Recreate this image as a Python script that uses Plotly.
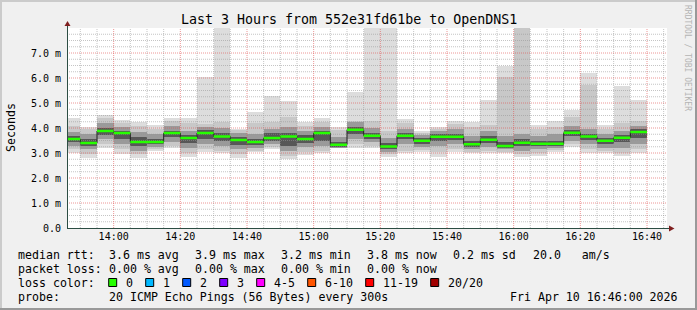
import plotly.graph_objects as go
import pandas as pd

# ---------------- data ----------------
day = "2026-04-10 "
times = ["13:50", "13:55", "14:00", "14:05", "14:10", "14:15", "14:20", "14:25",
         "14:30", "14:35", "14:40", "14:45", "14:50", "14:55", "15:00", "15:05",
         "15:10", "15:15", "15:20", "15:25", "15:30", "15:35", "15:40", "15:45",
         "15:50", "15:55", "16:00", "16:05", "16:10", "16:15", "16:20", "16:25",
         "16:30", "16:35", "16:40"]

rtt_min = [3.02, 2.80, 3.20, 2.98, 2.80, 3.08, 3.20, 2.85, 3.05, 2.99, 2.80, 3.05,
           3.15, 2.78, 2.92, 2.99, 3.19, 3.21, 3.21, 2.85, 2.99, 3.05, 2.85, 3.05,
           2.99, 2.99, 2.99, 2.85, 2.88, 3.05, 3.25, 2.99, 2.99, 2.88, 3.01]
rtt_p2 = [3.15, 2.95, 3.35, 3.15, 2.95, 3.15, 3.30, 3.00, 3.15, 3.10, 2.95, 3.10,
          3.25, 2.90, 3.05, 3.10, 3.20, 3.35, 3.30, 2.95, 3.10, 3.12, 3.05, 3.15,
          3.05, 3.10, 3.05, 2.95, 3.00, 3.12, 3.35, 3.15, 3.08, 3.00, 3.15]
rtt_q1 = [3.30, 3.15, 3.55, 3.35, 3.10, 3.25, 3.45, 3.20, 3.35, 3.30, 3.15, 3.20,
          3.35, 3.10, 3.25, 3.30, 3.22, 3.55, 3.45, 3.05, 3.35, 3.25, 3.30, 3.35,
          3.15, 3.25, 3.15, 3.10, 3.15, 3.22, 3.50, 3.35, 3.20, 3.20, 3.35]
rtt_c1 = [3.45, 3.28, 3.72, 3.58, 3.28, 3.35, 3.65, 3.40, 3.55, 3.50, 3.32, 3.32,
          3.50, 3.30, 3.40, 3.50, 3.25, 3.78, 3.58, 3.15, 3.55, 3.38, 3.50, 3.52,
          3.25, 3.40, 3.22, 3.28, 3.27, 3.30, 3.68, 3.52, 3.37, 3.45, 3.60]
rtt_median = [3.56, 3.40, 3.88, 3.80, 3.44, 3.44, 3.80, 3.60, 3.80, 3.66, 3.52, 3.44,
              3.60, 3.66, 3.56, 3.80, 3.33, 3.93, 3.69, 3.26, 3.69, 3.49, 3.65, 3.65,
              3.35, 3.53, 3.28, 3.41, 3.37, 3.37, 3.81, 3.66, 3.49, 3.61, 3.84]
rtt_c2 = [3.68, 3.55, 4.02, 3.88, 3.65, 3.58, 3.90, 3.72, 3.92, 3.80, 3.65, 3.55,
          3.80, 3.80, 3.72, 3.88, 3.45, 4.05, 3.80, 3.40, 3.82, 3.60, 3.75, 3.78,
          3.50, 3.68, 3.45, 3.55, 3.50, 3.50, 3.92, 3.78, 3.60, 3.72, 3.95]
rtt_q3 = [3.85, 3.75, 4.20, 4.05, 3.85, 3.75, 4.10, 3.90, 4.05, 4.00, 3.80, 3.75,
          3.95, 4.05, 3.90, 4.05, 3.65, 4.25, 4.00, 3.60, 3.98, 3.72, 3.88, 3.98,
          3.70, 3.90, 3.70, 3.75, 3.70, 3.75, 4.10, 3.95, 3.78, 3.90, 4.10]
rtt_p19 = [4.10, 3.95, 4.40, 4.20, 4.10, 3.95, 4.30, 4.20, 4.17, 4.25, 3.92, 4.20,
           4.25, 4.45, 4.10, 4.25, 3.92, 4.30, 4.30, 3.90, 4.20, 3.82, 3.98, 4.18,
           4.05, 4.12, 6.04, 9.50, 3.95, 4.05, 4.45, 5.71, 3.98, 4.20, 4.30]
rtt_max = [4.40, 4.05, 4.54, 4.34, 4.25, 4.12, 4.41, 4.41, 6.06, 9.50, 3.98, 4.65,
           5.28, 5.07, 4.25, 4.41, 4.05, 5.45, 9.50, 9.50, 4.36, 3.88, 4.03, 4.29,
           4.25, 5.11, 6.50, 9.50, 4.13, 4.28, 4.71, 6.20, 4.12, 5.67, 5.11]

y_ticks = [0, 1, 2, 3, 4, 5, 6, 7]
y_tick_labels = ["0.0", "1.0 m", "2.0 m", "3.0 m", "4.0 m", "5.0 m", "6.0 m", "7.0 m"]

title_text = "Last 3 Hours from 552e31fd61be to OpenDNS1"
rtt_stats = ["3.6 ms avg", "3.9 ms max", "3.2 ms min", "3.8 ms now", "0.2 ms sd", "20.0   am/s"]
loss_stats = ["0.00 % avg", "0.00 % max", "0.00 % min", "0.00 % now"]
loss_labels = ["0", "1", "2", "3", "4-5", "6-10", "11-19", "20/20"]
probe_text = "20 ICMP Echo Pings (56 Bytes) every 300s"
stamp_text = "Fri Apr 10 16:46:00 2026"

# ---------------- styles ----------------
loss_colors = ["#26ff00", "#00b8ff", "#0059ff", "#7e00ff", "#ff00ff", "#ff5500", "#ff0000", "#a10000"]
MONO = "DejaVu Sans Mono"
W, H = 697, 310
L, R, T, B = 67, 667, 28, 228


def px(x):
    return (x - L) / (R - L)


def py(y):
    return (B - y) / (B - T)


end = pd.to_datetime([day + t for t in times])
step = pd.Timedelta(minutes=5)
start = end - step
center = end - step / 2
x0 = pd.Timestamp(day + "13:46")
x1 = pd.Timestamp(day + "16:46")

fig = go.Figure()

layers = [
    (rtt_min, rtt_max, "#dddddd"),
    (rtt_p2, rtt_p19, "#c8c8c8"),
    (rtt_q1, rtt_q3, "#9a9a9a"),
    (rtt_c1, rtt_c2, "#575757"),
]
for lo, hi, col in layers:
    fig.add_trace(go.Bar(
        x=center, base=lo, y=[h - l for l, h in zip(lo, hi)],
        width=step.total_seconds() * 1000,
        marker=dict(color=col, line=dict(width=0)),
        hoverinfo="skip", showlegend=False,
    ))

# grid (drawn above the smoke like rrdtool)
minor_col = "rgba(150,150,150,0.55)"
major_col = "rgba(225,80,80,0.6)"
grid_times = pd.date_range(day + "13:50", day + "16:45", freq="5min")
vx_min, vy_min, vx_maj, vy_maj = [], [], [], []
for t in grid_times:
    if t.minute % 20 == 0:
        vx_maj += [t, t, None]
        vy_maj += [0, 8, None]
    else:
        vx_min += [t, t, None]
        vy_min += [0, 8, None]
hx_min, hy_min, hx_maj, hy_maj = [], [], [], []
for k in range(1, 32):
    v = k * 0.25
    if k % 4 == 0:
        hx_maj += [x0, x1, None]
        hy_maj += [v, v, None]
    else:
        hx_min += [x0, x1, None]
        hy_min += [v, v, None]
for xs, ys, col in [(vx_min, vy_min, minor_col), (hx_min, hy_min, minor_col),
                    (vx_maj, vy_maj, major_col), (hx_maj, hy_maj, major_col)]:
    fig.add_trace(go.Scatter(x=xs, y=ys, mode="lines",
                             line=dict(color=col, width=1, dash="1px,1px"),
                             hoverinfo="skip", showlegend=False, connectgaps=False))

# median: black step line + green (loss 0) segments
bx, by, gx, gy = [], [], [], []
for s, e, m in zip(start, end, rtt_median):
    bx += [s, e]
    by += [m, m]
    gx += [s, e, None]
    gy += [m, m, None]
fig.add_trace(go.Scatter(x=bx, y=by, mode="lines", line=dict(color="#202020", width=1),
                         hoverinfo="skip", showlegend=False))
fig.add_trace(go.Scatter(x=gx, y=gy, mode="lines", line=dict(color=loss_colors[0], width=2.5),
                         hoverinfo="skip", showlegend=False, connectgaps=False))

shapes = []
# frame
shapes.append(dict(type="rect", xref="paper", yref="paper", x0=px(0), x1=px(W), y0=py(0), y1=py(2),
                   fillcolor="#cbcbcb", line=dict(width=0), layer="above"))
shapes.append(dict(type="rect", xref="paper", yref="paper", x0=px(0), x1=px(2), y0=py(0), y1=py(H),
                   fillcolor="#cbcbcb", line=dict(width=0), layer="above"))
shapes.append(dict(type="rect", xref="paper", yref="paper", x0=px(0), x1=px(W), y0=py(H - 2), y1=py(H),
                   fillcolor="#999999", line=dict(width=0), layer="above"))
shapes.append(dict(type="rect", xref="paper", yref="paper", x0=px(W - 2), x1=px(W), y0=py(0), y1=py(H),
                   fillcolor="#999999", line=dict(width=0), layer="above"))
# axes
shapes.append(dict(type="line", xref="paper", yref="paper", x0=px(L), x1=px(670), y0=py(B + 0.5), y1=py(B + 0.5),
                   line=dict(color="#2c4d43", width=1), layer="above"))
shapes.append(dict(type="line", xref="paper", yref="paper", x0=px(L + 0.5), x1=px(L + 0.5), y0=py(B + 0.5), y1=py(25),
                   line=dict(color="#2c4d43", width=1), layer="above"))
# arrows
shapes.append(dict(type="path", xref="paper", yref="paper",
                   path=f"M {px(669)},{py(225.5)} L {px(674.5)},{py(228.5)} L {px(669)},{py(231.5)} Z",
                   fillcolor="#7f1f1f", line=dict(width=0), layer="above"))
shapes.append(dict(type="path", xref="paper", yref="paper",
                   path=f"M {px(64.5)},{py(26)} L {px(67.5)},{py(21)} L {px(70.5)},{py(26)} Z",
                   fillcolor="#7f1f1f", line=dict(width=0), layer="above"))

ann = []


def text(x, y, s, size=11.6, anchor="left", color="#000000", angle=0):
    ann.append(dict(x=px(x), y=py(y), xref="paper", yref="paper", text=s, showarrow=False,
                    xanchor=anchor, yanchor="middle", textangle=angle,
                    font=dict(family=MONO, size=size, color=color)))


text(348.5, 19, title_text, size=13.3, anchor="center")
text(11, 128, "Seconds", anchor="center", angle=-90)
text(688, 58, "RRDTOOL / TOBI OETIKER", size=8, anchor="center", color="#b4b4b4", angle=90)

row_y = [254.5, 268.5, 282.5, 296.5]
col_x = [107.3, 193.3, 279.3, 365.0, 451.0, 530.7]
text(16, row_y[0], "median rtt:")
for x, s in zip(col_x, rtt_stats):
    text(x, row_y[0], s)
text(16, row_y[1], "packet loss:")
for x, s in zip(col_x, loss_stats):
    text(x, row_y[1], s)
text(16, row_y[2], "loss color:")
cur = 108.7
for lab, col in zip(loss_labels, loss_colors):
    shapes.append(dict(type="rect", xref="paper", yref="paper", x0=px(cur), x1=px(cur + 8),
                       y0=py(row_y[2] - 4), y1=py(row_y[2] + 4),
                       fillcolor=col, line=dict(color="#000000", width=1), layer="above"))
    tx = cur + 14.8
    text(tx, row_y[2], lab)
    cur = tx + 7.0 * len(lab) + 15.2
text(16, row_y[3], "probe:")
text(107.3, row_y[3], probe_text)
text(680, row_y[3], stamp_text, anchor="right")

fig.update_layout(
    width=W, height=H,
    margin=dict(l=L, r=W - R, t=T, b=H - B, pad=0),
    paper_bgcolor="#f0f0f0", plot_bgcolor="#ffffff",
    barmode="overlay", bargap=0,
    showlegend=False,
    shapes=shapes, annotations=ann,
    font=dict(family=MONO, size=10, color="#000000"),
    xaxis=dict(type="date", range=[x0, x1], showgrid=False, zeroline=False, showline=False,
               tick0=day + "14:00", dtick=20 * 60 * 1000, tickformat="%H:%M",
               ticks="", tickfont=dict(family=MONO, size=10), ticklabelstandoff=1,
               fixedrange=True),
    yaxis=dict(range=[0, 8], showgrid=False, zeroline=False, showline=False,
               tickvals=y_ticks, ticktext=y_tick_labels,
               ticks="", tickfont=dict(family=MONO, size=10), ticklabelstandoff=5,
               fixedrange=True),
)

fig.write_html("out.html")
